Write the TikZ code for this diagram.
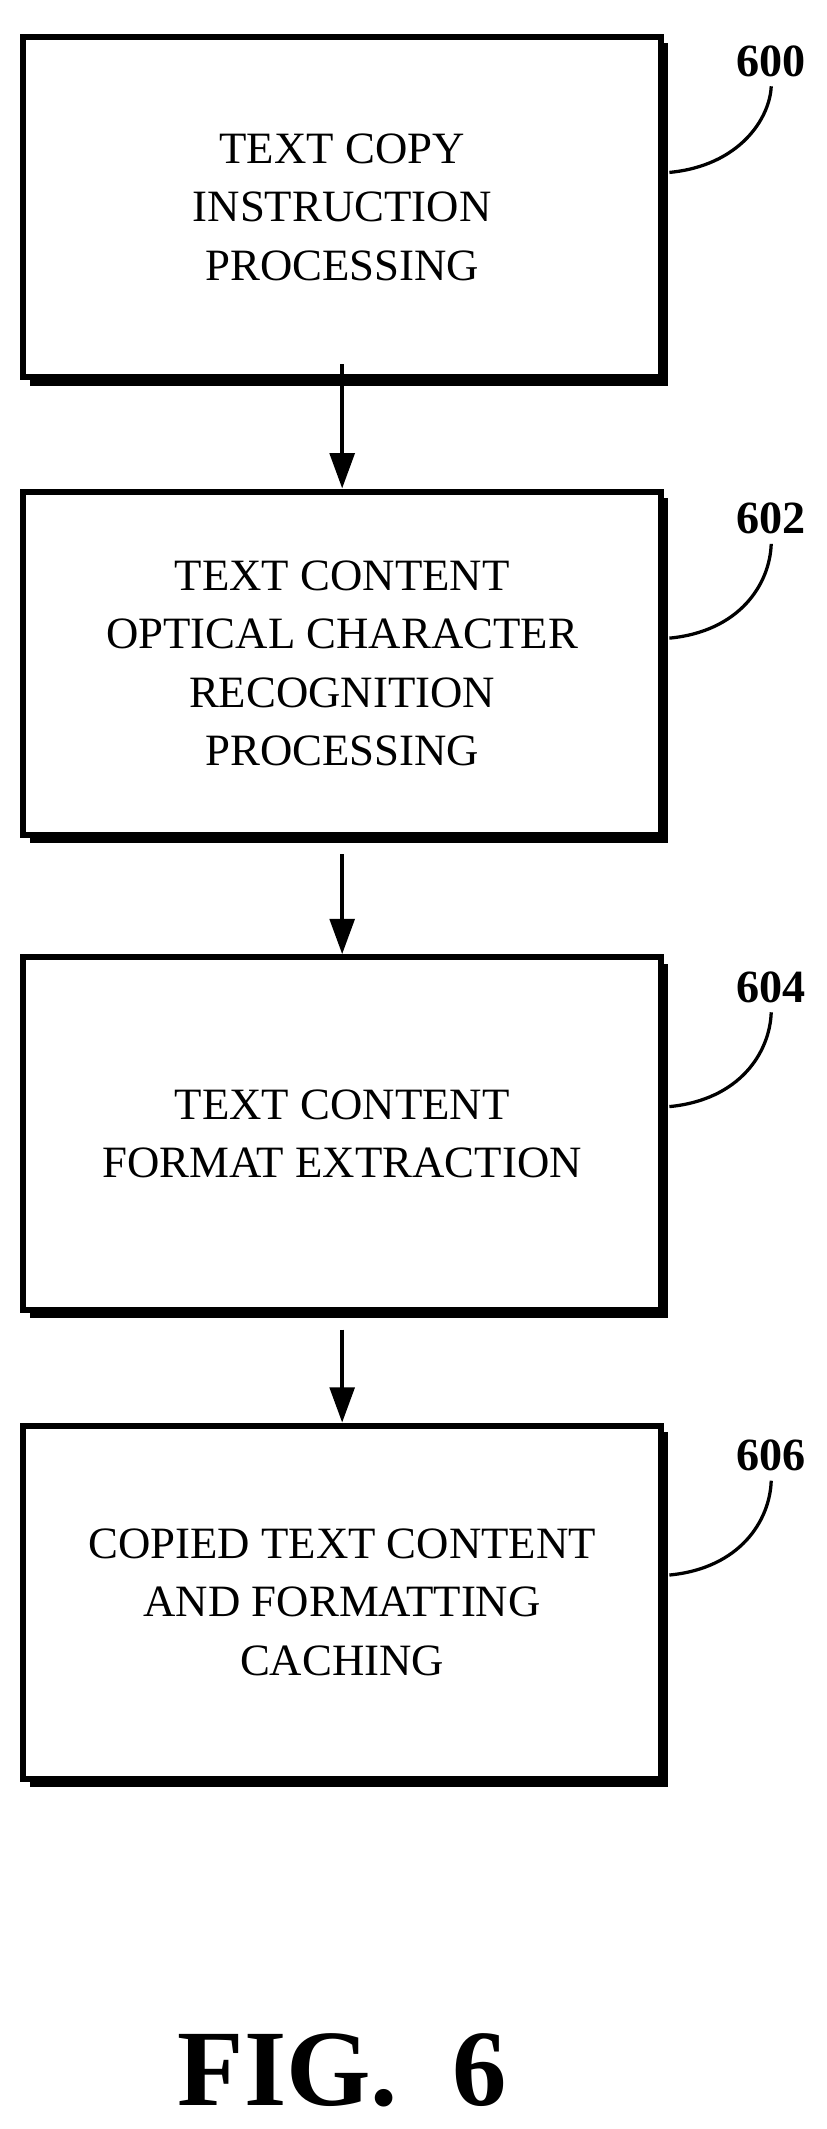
\documentclass[tikz,border=0pt]{standalone}
\usepackage{fontspec}
\setmainfont{Liberation Serif}
\usetikzlibrary{arrows.meta}
\begin{document}
\begin{tikzpicture}[x=0.5pt,y=-0.5pt,
  box/.style={draw,line width=2.2pt,minimum width=235pt,minimum height=125pt,align=center,font=\fontsize{16.5}{21.5}\selectfont,inner sep=0pt},
  shadow/.style={fill=black},
  arr/.style={line width=1.6pt,-{Triangle[length=13pt,width=9pt]}},
  lead/.style={line width=1.2pt},
  lab/.style={font=\fontsize{17}{17}\bfseries\selectfont}]
\useasboundingbox (0,0) rectangle (609,1568);
\foreach \t/\b in {27/278,362/615,705/965,1050/1310}{
  \fill (22,\b) rectangle (492,\b+6);
  \fill (487,\t+5) rectangle (492,\b+6);
}
\node[box,minimum height=125.5pt] (b1) at (252,152.5) {TEXT COPY\\INSTRUCTION\\PROCESSING};
\node[box,minimum height=126.5pt] (b2) at (252,488.5) {TEXT CONTENT\\OPTICAL CHARACTER\\RECOGNITION\\PROCESSING};
\node[box,minimum height=130pt] (b3) at (252,835) {TEXT CONTENT\\FORMAT EXTRACTION};
\node[box,minimum height=130pt] (b4) at (252,1180) {COPIED TEXT CONTENT\\AND FORMATTING\\CACHING};
\draw[arr] (b1.south) ++(0,6pt) coordinate (s1) -- (b2.north);
\draw[arr] ([yshift=-6pt]b2.south) -- (b3.north);
\draw[arr] ([yshift=-6pt]b3.south) -- (b4.north);
\node[lab] (l1) at (568,45) {600};
\node[lab] (l2) at (568,382) {602};
\node[lab] (l3) at (568,727) {604};
\node[lab] (l4) at (568,1072) {606};
\foreach \i/\y in {1/127,2/470,3/815,4/1160}{
  \draw[lead] (493,\y) .. controls (545,\y-5) and (567,\y-40) .. (l\i.south);
}
\node[font=\fontsize{40}{40}\bfseries\selectfont] (fig) at (252,1525) {FIG.\ \ 6};
\end{tikzpicture}
\end{document}
